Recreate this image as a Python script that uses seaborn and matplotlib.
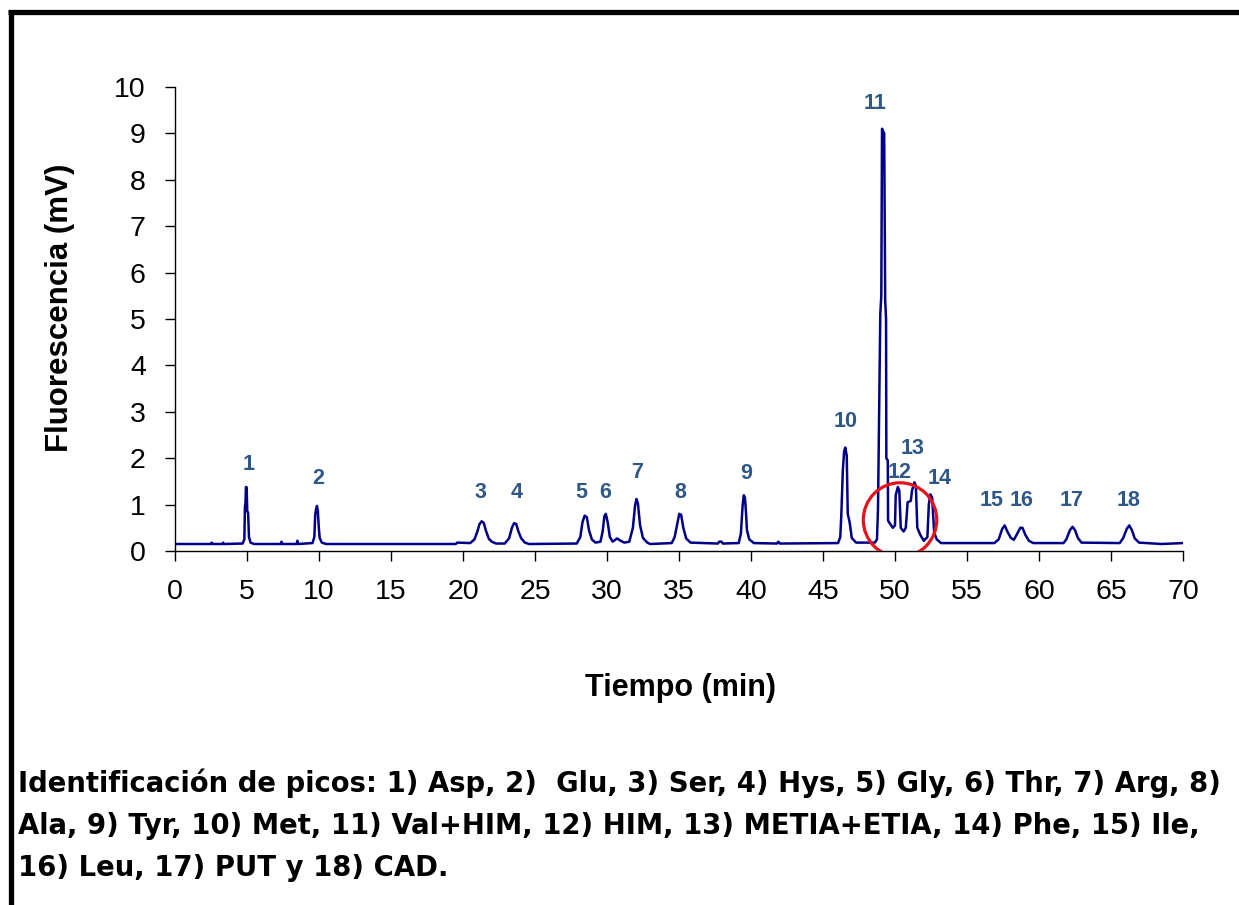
import matplotlib
matplotlib.use("Agg")
import matplotlib.pyplot as plt
from matplotlib.patches import Ellipse
from matplotlib.lines import Line2D
import seaborn as sns
import pandas as pd

# trazo del cromatograma (vertices)
tiempo_min = [0.0, 2.5, 2.55, 2.6, 3.3, 3.35, 3.4, 4.7, 4.82, 4.86, 4.9, 4.93, 4.98, 5.02, 5.08, 5.14, 5.25, 5.5,
              7.35, 7.4, 7.45, 8.45, 8.5, 8.55, 9.55, 9.68, 9.74, 9.8, 9.86, 9.92, 9.98, 10.05, 10.2, 10.5,
              19.5, 19.6, 20.5, 20.8, 21.0, 21.15, 21.3, 21.45, 21.6, 21.8, 22.0, 22.3,
              22.9, 23.2, 23.4, 23.55, 23.7, 23.85, 24.05, 24.3, 24.6,
              27.9, 28.15, 28.3, 28.45, 28.6, 28.75, 28.95, 29.2,
              29.55, 29.7, 29.82, 29.92, 30.05, 30.2, 30.4, 30.7, 30.95, 31.2,
              31.55, 31.8, 31.95, 32.05, 32.15, 32.3, 32.5, 32.8, 33.0,
              34.5, 34.7, 34.9, 35.02, 35.15, 35.3, 35.5, 35.8,
              37.7, 37.8, 37.95, 38.05, 39.15, 39.3, 39.42, 39.5, 39.58, 39.65, 39.72, 39.88, 40.2,
              41.8, 41.9, 42.0, 46.05, 46.2, 46.27, 46.38, 46.47, 46.55, 46.65, 46.72, 46.85, 47.0, 47.3,
              48.6, 48.75, 48.82, 48.98, 49.05, 49.1, 49.25, 49.32, 49.38, 49.4, 49.5, 49.52,
              49.85, 50.0, 50.05, 50.2, 50.3, 50.4, 50.6, 50.75, 50.88, 51.1, 51.18, 51.35, 51.45, 51.55,
              51.75, 52.0, 52.25, 52.35, 52.45, 52.58, 52.72, 52.9, 53.2,
              56.9, 57.2, 57.45, 57.62, 57.8, 58.05, 58.25, 58.45, 58.7, 58.85, 59.05, 59.3, 59.6,
              61.7, 61.9, 62.15, 62.33, 62.5, 62.7, 62.95,
              65.6, 65.85, 66.1, 66.27, 66.45, 66.65, 66.95, 68.5, 70.0]
fluorescencia_mv = [0.15, 0.15, 0.18, 0.15, 0.15, 0.18, 0.15, 0.16, 0.25, 0.95, 1.05, 1.38, 1.37, 0.86, 0.82, 0.3, 0.18, 0.15,
                    0.15, 0.2, 0.15, 0.15, 0.22, 0.15, 0.17, 0.3, 0.78, 0.9, 0.97, 0.88, 0.55, 0.28, 0.18, 0.15,
                    0.15, 0.18, 0.17, 0.25, 0.42, 0.58, 0.64, 0.6, 0.43, 0.26, 0.2, 0.16,
                    0.16, 0.27, 0.5, 0.6, 0.58, 0.42, 0.27, 0.18, 0.15,
                    0.16, 0.3, 0.62, 0.76, 0.73, 0.45, 0.25, 0.18,
                    0.2, 0.42, 0.75, 0.8, 0.62, 0.3, 0.2, 0.27, 0.22, 0.18,
                    0.2, 0.5, 0.98, 1.12, 1.02, 0.55, 0.28, 0.18, 0.15,
                    0.17, 0.3, 0.62, 0.8, 0.78, 0.5, 0.27, 0.18,
                    0.16, 0.2, 0.2, 0.16, 0.17, 0.38, 0.98, 1.2, 1.15, 0.85, 0.45, 0.25, 0.17,
                    0.16, 0.2, 0.16, 0.17, 0.3, 0.75, 1.75, 2.15, 2.23, 2.05, 0.8, 0.62, 0.28, 0.18,
                    0.18, 0.25, 0.9, 5.1, 5.5, 9.1, 9.0, 5.4, 5.0, 2.0, 1.95, 0.65,
                    0.5, 0.55, 1.2, 1.38, 1.3, 0.5, 0.42, 0.5, 1.05, 1.08, 1.3, 1.48, 1.4, 0.5,
                    0.35, 0.22, 0.3, 1.0, 1.22, 1.15, 0.4, 0.25, 0.17,
                    0.17, 0.25, 0.48, 0.55, 0.42, 0.28, 0.24, 0.35, 0.5, 0.5, 0.35, 0.22, 0.17,
                    0.17, 0.25, 0.45, 0.52, 0.45, 0.28, 0.18,
                    0.17, 0.28, 0.48, 0.55, 0.45, 0.27, 0.18, 0.15, 0.17]

# etiquetas de picos
pico_num = ["1", "2", "3", "4", "5", "6", "7", "8", "9", "10", "11", "12", "13", "14", "15", "16", "17", "18"]
pico_t = [5.14, 9.93, 21.2, 23.75, 28.2, 29.9, 32.08, 35.1, 39.7, 46.6, 48.6, 50.3, 51.2, 53.1, 56.7, 58.8, 62.3, 66.25]
pico_y = [1.87, 1.57, 1.25, 1.25, 1.25, 1.25, 1.7, 1.25, 1.68, 2.8, 9.65, 1.7, 2.2, 1.57, 1.08, 1.08, 1.08, 1.08]

x_ticks = list(range(0, 71, 5))
y_ticks = list(range(0, 11))

leyenda = [
    "Identificación de picos: 1) Asp, 2)  Glu, 3) Ser, 4) Hys, 5) Gly, 6) Thr, 7) Arg, 8)",
    "Ala, 9) Tyr, 10) Met, 11) Val+HIM, 12) HIM, 13) METIA+ETIA, 14) Phe, 15) Ile,",
    "16) Leu, 17) PUT y 18) CAD.",
]

df = pd.DataFrame({"Tiempo": tiempo_min, "Fluorescencia": fluorescencia_mv})

sns.set_theme(style="ticks")
plt.rcParams["font.family"] = ["Liberation Sans", "DejaVu Sans"]

fig = plt.figure(figsize=(12.39, 9.05), dpi=100)
ax = fig.add_axes([0.1412, 0.3912, 0.8136, 0.5127])

sns.lineplot(data=df, x="Tiempo", y="Fluorescencia", sort=False, estimator=None,
             color="#000088", linewidth=1.8, ax=ax)

for n, t, y in zip(pico_num, pico_t, pico_y):
    ax.text(t, y, n, ha="center", va="center", family="Liberation Sans", fontweight="bold",
            fontsize=15.5, color="#2F5887")

ax.add_patch(Ellipse((50.35, 0.67), 5.1, 1.6, fill=False, edgecolor="#E3141B", linewidth=2.3, zorder=5))

ax.set_xlim(0, 70)
ax.set_ylim(0, 10)
ax.set_xticks(x_ticks)
ax.set_yticks(y_ticks)
ax.tick_params(axis="both", length=7, width=1, color="black", labelcolor="black", labelsize=20.5)
ax.tick_params(axis="x", pad=13)
ax.tick_params(axis="y", pad=14)
for s in ["left", "bottom"]:
    ax.spines[s].set_color("black")
    ax.spines[s].set_linewidth(1)
sns.despine(ax=ax)
ax.set_xlabel("Tiempo (min)", family="Liberation Sans", fontweight="bold", fontsize=22,
              color="black", ha="center", va="center")
ax.xaxis.set_label_coords(0.502, -0.295)
ax.set_ylabel("Fluorescencia (mV)", family="Liberation Sans", fontweight="bold", fontsize=22.5,
              color="black", ha="center", va="center")
ax.yaxis.set_label_coords(-0.114, 0.523)

for i, linea in enumerate(leyenda):
    fig.text(18 / 1239, 1 - (783 + i * 42.5) / 905, linea, ha="left", va="center",
             fontsize=19.8, fontweight="bold", family="DejaVu Sans", color="black")

# marco
fig.add_artist(Line2D([8 / 1239, 1], [1 - 12.5 / 905] * 2, color="black", linewidth=3.8, solid_capstyle="butt"))
fig.add_artist(Line2D([10.5 / 1239] * 2, [0, 1 - 10 / 905], color="black", linewidth=3.8, solid_capstyle="butt"))

fig.savefig("out.png", dpi=100, facecolor="white")
